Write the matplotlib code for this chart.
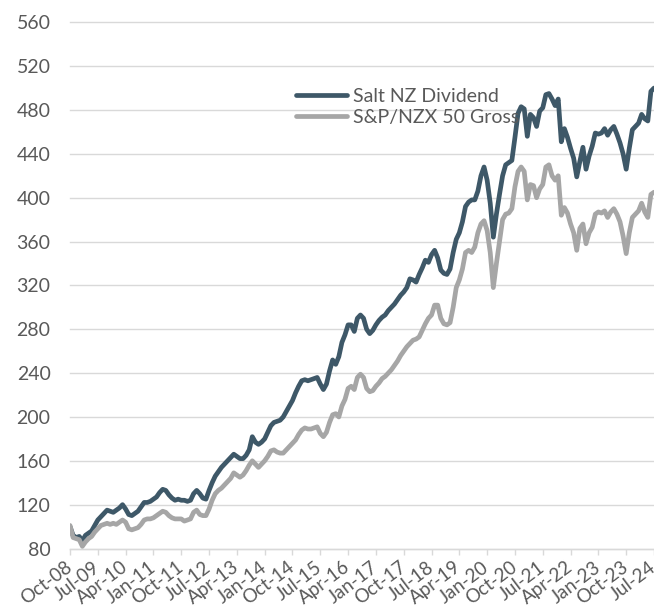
import matplotlib
matplotlib.use("Agg")
import matplotlib.pyplot as plt

# ---- data (monthly, Oct-08 .. Jul-24) ----
tick_labels = ["Oct-08", "Jul-09", "Apr-10", "Jan-11", "Oct-11", "Jul-12", "Apr-13",
               "Jan-14", "Oct-14", "Jul-15", "Apr-16", "Jan-17", "Oct-17", "Jul-18",
               "Apr-19", "Jan-20", "Oct-20", "Jul-21", "Apr-22", "Jan-23", "Oct-23", "Jul-24"]

salt_nz_dividend = [
    100, 92, 90, 91, 87, 92, 94, 96, 101, 106,
    109, 112, 115, 114, 113, 115, 117, 120, 116, 111,
    110, 112, 114, 118, 122, 122, 123, 125, 127, 131,
    134, 133, 129, 126, 124, 125, 124, 124, 123, 124,
    130, 133, 130, 126, 125, 133, 140, 146, 150, 154,
    157, 160, 163, 166, 164, 162, 162, 165, 170, 182,
    177, 175, 177, 180, 186, 192, 195, 196, 197, 200,
    205, 210, 215, 222, 228, 233, 234, 233, 234, 235,
    236, 230, 225, 230, 242, 252, 248, 255, 268, 275,
    284, 284, 278, 290, 293, 290, 280, 276, 279, 284,
    288, 291, 293, 297, 300, 303, 307, 311, 314, 318,
    326, 325, 323, 330, 336, 343, 341, 348, 352, 345,
    334, 331, 330, 335, 350, 362, 368, 378, 392, 396,
    398, 398, 406, 420, 428, 416, 395, 364, 385, 403,
    420, 430, 432, 434, 455, 477, 483, 481, 456, 476,
    473, 465, 479, 482, 494, 495, 490, 484, 490, 451,
    463, 455, 445, 436, 419, 433, 446, 426, 438, 447,
    459, 458, 459, 463, 457, 462, 465, 458, 450, 440,
    426, 445, 462, 465, 468, 476, 472, 470, 497, 500,
]

sp_nzx50_gross = [
    101, 90, 89, 88, 82, 86, 89, 91, 95, 98,
    101, 102, 103, 102, 103, 102, 104, 106, 104, 98,
    97, 98, 99, 102, 106, 107, 107, 108, 110, 112,
    114, 113, 110, 108, 107, 107, 107, 105, 106, 107,
    113, 115, 111, 110, 110, 116, 124, 130, 133, 135,
    138, 141, 144, 149, 147, 145, 147, 151, 156, 160,
    157, 154, 157, 160, 164, 169, 170, 168, 167, 167,
    170, 173, 176, 179, 184, 188, 190, 189, 189, 190,
    191, 185, 182, 186, 195, 202, 203, 200, 210, 216,
    226, 228, 225, 236, 239, 236, 226, 223, 224, 228,
    231, 235, 237, 240, 243, 247, 251, 256, 260, 264,
    267, 270, 271, 273, 279, 285, 290, 293, 302, 302,
    290, 285, 284, 286, 300, 318, 325, 335, 350, 352,
    350, 355, 368, 376, 379, 370, 350, 318, 340, 360,
    380, 385, 386, 390, 410, 424, 428, 424, 398, 412,
    411, 400, 408, 412, 428, 430, 420, 416, 420, 384,
    391, 386, 376, 368, 352, 372, 376, 358, 368, 373,
    385, 387, 386, 388, 382, 387, 390, 385, 378, 365,
    349, 368, 382, 385, 388, 395, 387, 382, 403, 405,
]

series_names = ["Salt NZ Dividend", "S&P/NZX 50 Gross"]
y_ticks = [80, 120, 160, 200, 240, 280, 320, 360, 400, 440, 480, 520, 560]

# ---- styling ----
plt.rcParams["font.family"] = ["Lato", "DejaVu Sans"]
text_color = "#595959"
grid_color = "#D9D9D9"
dark = "#3E5868"
gray = "#A6A6A6"

fig = plt.figure(figsize=(6.54, 6.10), dpi=100)
ax = fig.add_axes([70 / 654, (610 - 548.5) / 610, 1 - 70 / 654, (548.5 - 22.3) / 610])

x = list(range(len(salt_nz_dividend)))
ax.plot(x, salt_nz_dividend, color=dark, lw=3.4, solid_joinstyle="round",
        solid_capstyle="round", label=series_names[0], zorder=3)
ax.plot(x, sp_nzx50_gross, color=gray, lw=3.4, solid_joinstyle="round",
        solid_capstyle="round", label=series_names[1], zorder=3)

ax.set_xlim(0, len(x) - 1)
ax.set_ylim(80, 560)
ax.set_yticks(y_ticks)
ax.set_yticklabels([str(v) for v in y_ticks])

tick_pos = [i * 9 for i in range(len(tick_labels))]
ax.set_xticks(tick_pos)
ax.set_xticklabels(tick_labels, rotation=37, ha="right", va="center",
                   rotation_mode="anchor")

for s in ["top", "right", "left"]:
    ax.spines[s].set_visible(False)
ax.spines["bottom"].set_color(grid_color)
ax.spines["bottom"].set_linewidth(1.0)

ax.yaxis.grid(True, color=grid_color, lw=1.0, zorder=0)
for gl in ax.yaxis.get_gridlines():
    gl.set_clip_on(False)
ax.set_axisbelow(True)

ax.tick_params(axis="y", length=0, pad=14, labelsize=14, labelcolor=text_color)
ax.tick_params(axis="x", length=4.5, width=1.0, color=grid_color, direction="out",
               pad=7.5, labelsize=13.5, labelcolor=text_color)

leg = ax.legend(loc="upper left", bbox_to_anchor=(296 / 654, 1 - 88 / 610),
                bbox_transform=fig.transFigure, frameon=False, fontsize=14,
                handlelength=2.6, handletextpad=0.35, labelspacing=0.2,
                borderpad=0, borderaxespad=0)
for t in leg.get_texts():
    t.set_color(text_color)
for h in leg.get_lines():
    h.set_linewidth(3.4)
    h.set_solid_capstyle("round")

fig.savefig("out.png", dpi=100)
